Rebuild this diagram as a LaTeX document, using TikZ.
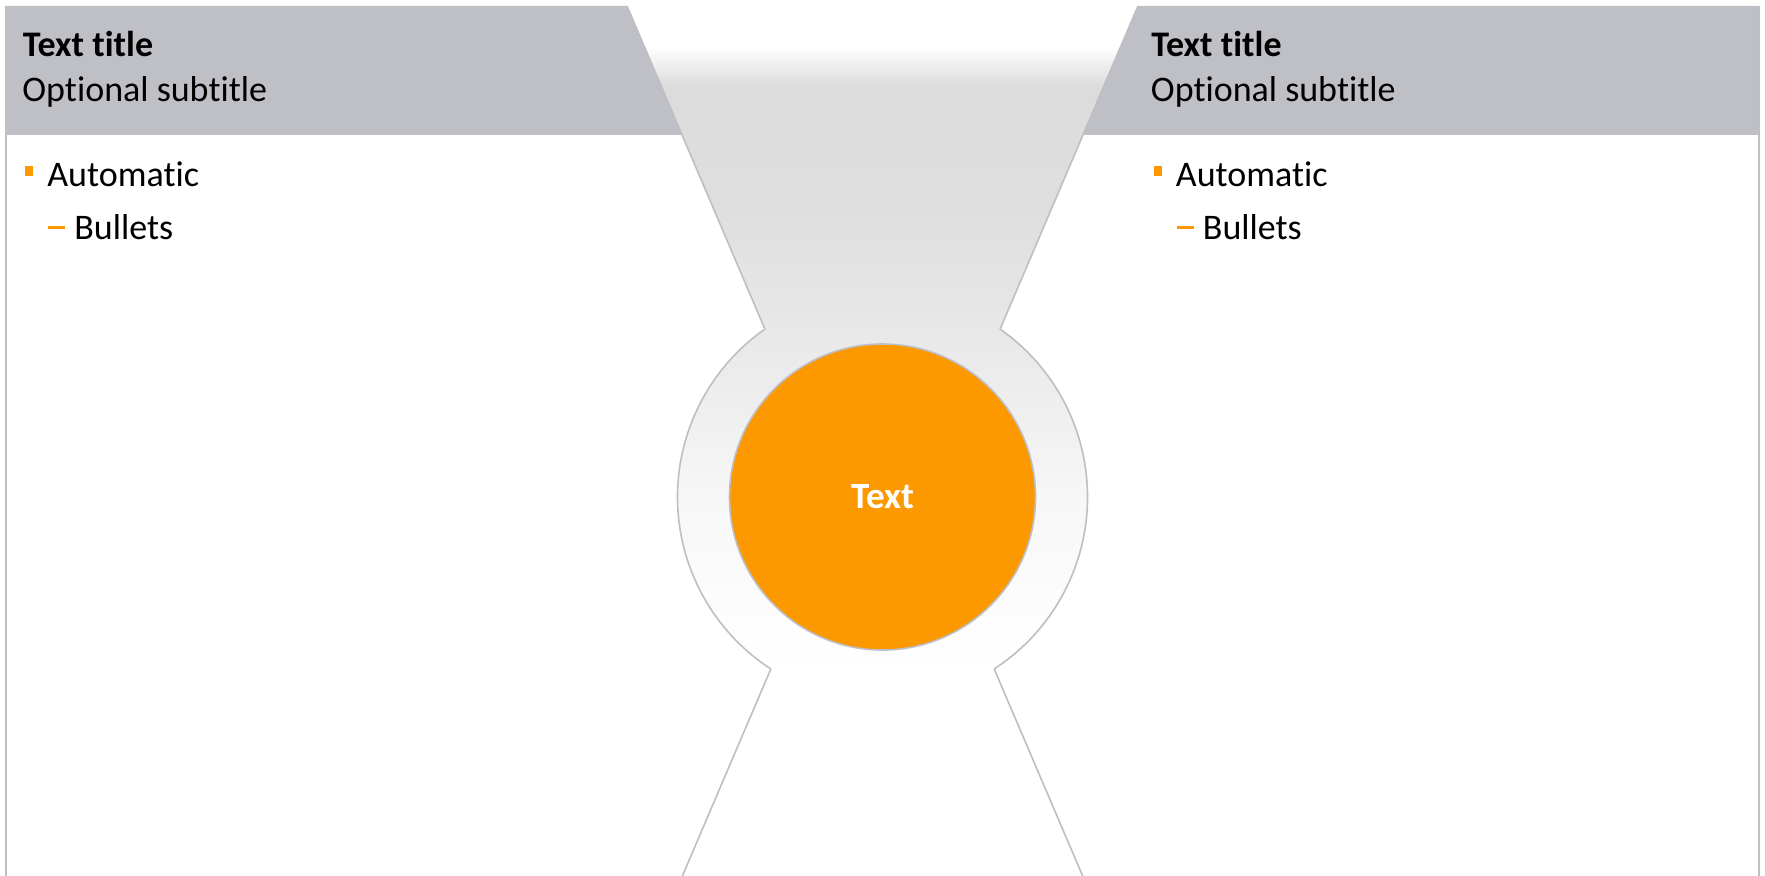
\documentclass[tikz,border=0pt]{standalone}
\usepackage{fontspec}
\setmainfont{Carlito}[Ligatures=NoCommon]
\definecolor{hdr}{RGB}{191,192,197}
\definecolor{outl}{RGB}{190,190,198}
\definecolor{org}{RGB}{252,153,0}
\definecolor{gA}{RGB}{253,253,253}
\definecolor{gB}{RGB}{247,247,247}
\definecolor{gC}{RGB}{232,232,232}
\definecolor{gD}{RGB}{222,222,222}
\definecolor{gE}{RGB}{220,220,220}
\pgfdeclareverticalshading{centergrad}{100bp}{color(0bp)=(white); color(36.7bp)=(white); color(39.7bp)=(gA); color(46.5bp)=(gB); color(56.3bp)=(gC); color(63.8bp)=(gD); color(70.4bp)=(gE); color(72.6bp)=(white); color(100bp)=(white)}
\tikzset{
  outline/.style={draw=outl, line width=0.8pt, line join=round},
  titletext/.style={anchor=base west, inner sep=0pt, font=\fontsize{18}{20}\selectfont\bfseries},
  subtext/.style={anchor=base west, inner sep=0pt, font=\fontsize{18}{20}\selectfont},
  bulletsq/.style={fill=org, draw=none},
}
\begin{document}
\begin{tikzpicture}[x=0.5pt,y=0.5pt]
\useasboundingbox (0,0) rectangle (1765,875);
\clip (0,0) rectangle (1765,875);
\fill[white] (0,0) rectangle (1765,875);
% central gradient
\begin{scope}
\clip (627,869) -- (764.9,545.9) arc[start angle=125, end angle=237, radius=205] -- (678.5,-10) -- (1086.5,-10) -- (994.2,206.1) arc[start angle=-57, end angle=55, radius=205] -- (1138,869) -- cycle;
\shade[shading=centergrad] (600,0) rectangle (1170,870);
\end{scope}
% headers
\fill[hdr] (6,740) -- (6,869) -- (627,869) -- (682.1,740) -- cycle;
\fill[hdr] (1759,740) -- (1759,869) -- (1138,869) -- (1082.9,740) -- cycle;
% outlines
\draw[outline, line width=1pt] (6,-10) -- (6,869);
\draw[outline, line width=1pt] (1759,-10) -- (1759,869);
\draw[outline] (627,869) -- (764.9,545.9) arc[start angle=125, end angle=237, radius=205] -- (678.5,-10);
\draw[outline] (1138,869) -- (1000.1,545.9) arc[start angle=55, end angle=-57, radius=205] -- (1086.5,-10);
% circle
\node[circle, fill=org, draw=outl, line width=0.8pt, minimum size=153pt, inner sep=0pt] (circ) at (882.5,378) {};
\node[anchor=base, inner sep=0pt, text=white, font=\fontsize{18.5}{20}\selectfont\bfseries] (ctext) at (882.5,366.5) {Text};
% left panel text
\node[titletext] (lt) at (22.5,818) {Text title};
\node[subtext] (ls) at (22,773) {Optional subtitle};
\path[bulletsq] (25,699) rectangle (33,709);
\node[subtext] (la) at (47,689) {Automatic};
\path[bulletsq] (48,646.5) rectangle (65,649);
\node[subtext] (lb) at (74,636) {Bullets};
% right panel text
\node[titletext] (rt) at (1151,818) {Text title};
\node[subtext] (rs) at (1150.5,773) {Optional subtitle};
\path[bulletsq] (1153.5,699) rectangle (1161.5,709);
\node[subtext] (ra) at (1175.5,689) {Automatic};
\path[bulletsq] (1176.5,646.5) rectangle (1193.5,649);
\node[subtext] (rb) at (1202.5,636) {Bullets};
\end{tikzpicture}
\end{document}
